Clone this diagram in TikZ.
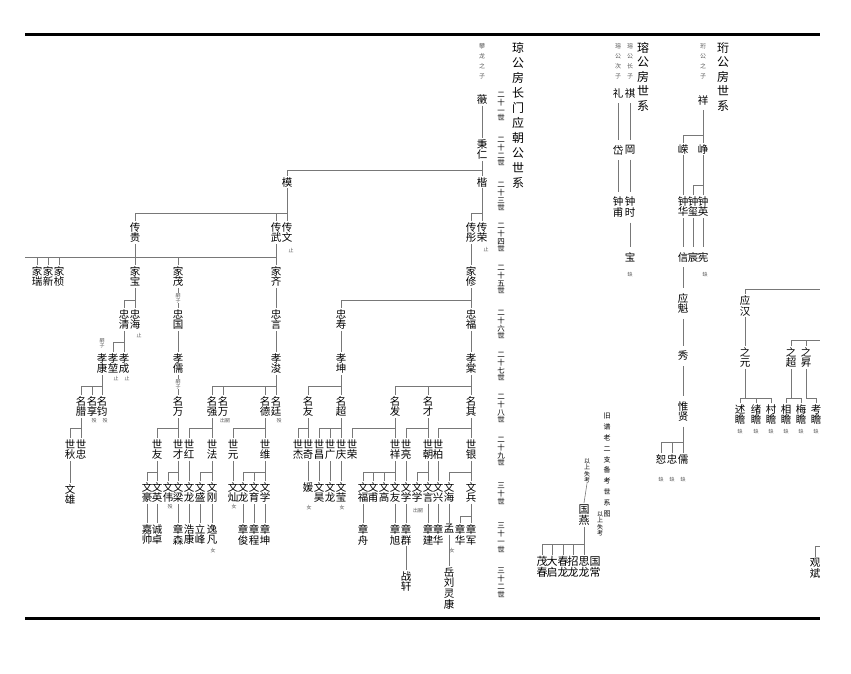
\documentclass[tikz,border=0pt]{standalone}
\usepackage{fontspec}
\newfontfamily\cjk{Noto Sans CJK SC}
\definecolor{ln}{RGB}{120,120,120}
\definecolor{nt}{RGB}{90,90,90}
\newcommand\kin[3]{\draw (#1.south) -- (#1.south |- 0,#2);
  \foreach \kc in {#3}{\draw (\kc.north) -- (\kc.north |- 0,#2) -- (#1.south |- 0,#2);}}
\newcommand\lk[2]{\draw (#1.south) -- (#2.north);}
\tikzset{
  nm/.style={font=\cjk\fontsize{10.5}{10.7}\selectfont, align=center, inner xsep=0pt, inner ysep=1.2pt, anchor=north},
  nmr/.style={nm, inner ysep=5pt},
  bg/.style={nm, font=\cjk\fontsize{11}{11.2}\selectfont},
  title/.style={font=\cjk\fontsize{12}{15}\selectfont, align=center, inner sep=0pt, anchor=north},
  titleb/.style={title, font=\cjk\fontsize{12}{14.5}\selectfont},
  gen/.style={font=\cjk\fontsize{7.5}{7.8}\selectfont, align=center, inner sep=0pt, anchor=north},
  sub/.style={font=\cjk\fontsize{6}{10}\selectfont, align=center, inner sep=0pt, anchor=north, text=nt},
  tiny/.style={font=\cjk\fontsize{5}{5.5}\selectfont, align=center, inner sep=0pt, text=nt},
  rule/.style={line width=2.6pt, black},
}
\begin{document}
\begin{tikzpicture}[x=1pt,y=-1pt]
\fill[white] (0,0) rectangle (851,674);
\useasboundingbox (0,0) rectangle (851,674);
\coordinate (tl) at (25,34.5); \coordinate (tr) at (820,34.5);
\coordinate (bl) at (25,618.5); \coordinate (br) at (820,618.5);
\draw[rule] (tl) -- (tr);
\draw[rule] (bl) -- (br);

% ---------- titles ----------
\node[title] (tt) at (518,42) {琼\\公\\房\\长\\门\\应\\朝\\公\\世\\系};
\node[sub] (pl) at (482,43) {攀\\龙\\之\\子};
\node[gen] (g21) at (501,92) {二\\十\\一\\世};
\node[gen] (g22) at (501,137) {二\\十\\二\\世};
\node[gen] (g23) at (501,182) {二\\十\\三\\世};
\node[gen] (g24) at (501,223) {二\\十\\四\\世};
\node[gen] (g25) at (501,265) {二\\十\\五\\世};
\node[gen] (g26) at (501,310) {二\\十\\六\\世};
\node[gen] (g27) at (501,352) {二\\十\\七\\世};
\node[gen] (g28) at (501,394) {二\\十\\八\\世};
\node[gen] (g29) at (501,437) {二\\十\\九\\世};
\node[gen] (g30) at (501,483) {三\\十\\世};
\node[gen] (g31) at (501,523) {三\\十\\一\\世};
\node[gen] (g32) at (501,568) {三\\十\\二\\世};

% ---------- main tree ----------
\node[nm] (t21) at (482,93) {藢};
\node[nm] (t22) at (482,138) {秉\\仁};
\node[nm] (kai) at (482,176) {楷};
\node[nm] (mo) at (287,176) {模};

\node[nm] (cg) at (135,221) {传\\贵};
\node[nm] (cw) at (276,221) {传\\武};
\node[nm] (cwen) at (287,221) {传\\文};
\node[nm] (ct) at (471,221) {传\\彤};
\node[nm] (cr) at (482,221) {传\\荣};

\node[nm] (jr) at (37,265) {家\\瑞};
\node[nm] (jx) at (48,265) {家\\新};
\node[nm] (jz) at (59,265) {家\\桢};
\node[nm] (jb) at (135,265) {家\\宝};
\node[nm] (jm) at (178,265) {家\\茂};
\node[nm] (jq) at (276,265) {家\\齐};
\node[nm] (jxiu) at (471,265) {家\\修};

\node[nm] (zq) at (124,308) {忠\\清};
\node[nm] (zh) at (135,308) {忠\\海};
\node[nm] (zg) at (178,308) {忠\\国};
\node[nm] (zy) at (276,308) {忠\\言};
\node[nm] (zs) at (341,308) {忠\\寿};
\node[nm] (zf) at (471,308) {忠\\福};

\node[nm] (xk) at (102,352) {孝\\康};
\node[nm] (xkun) at (113,352) {孝\\堃};
\node[nm] (xc) at (124,352) {孝\\成};
\node[nm] (xr) at (178,352) {孝\\儒};
\node[nm] (xj) at (276,352) {孝\\浚};
\node[nm] (xkn) at (341,352) {孝\\坤};
\node[nm] (xt) at (471,352) {孝\\棠};

\node[nm] (ml) at (81,395) {名\\腊};
\node[nm] (mx) at (92,395) {名\\享};
\node[nm] (mj) at (102,395) {名\\钧};
\node[nm] (mw) at (178,395) {名\\万};
\node[nm] (mq) at (212,395) {名\\强};
\node[nm] (mwb) at (223,395) {名\\万};
\node[nm] (md) at (265,395) {名\\德};
\node[nm] (mt) at (276,395) {名\\廷};
\node[nm] (my) at (308,395) {名\\友};
\node[nm] (mc) at (341,395) {名\\超};
\node[nm] (mf) at (395,395) {名\\发};
\node[nm] (mca) at (428,395) {名\\才};
\node[nm] (mqi) at (471,395) {名\\其};

\node[nm] (sq) at (70,438) {世\\秋};
\node[nm] (sz) at (81,438) {世\\忠};
\node[nm] (sy) at (157,438) {世\\友};
\node[nm] (sc) at (178,438) {世\\才};
\node[nm] (sh) at (189,438) {世\\红};
\node[nm] (sf) at (212,438) {世\\法};
\node[nm] (syu) at (233,438) {世\\元};
\node[nm] (sw) at (265,438) {世\\维};
\node[nm] (sj) at (298,438) {世\\杰};
\node[nm] (sqi) at (308,438) {世\\奇};
\node[nm] (sch) at (319,438) {世\\昌};
\node[nm] (sg) at (330,438) {世\\广};
\node[nm] (sqg) at (341,438) {世\\庆};
\node[nm] (sr) at (352,438) {世\\荣};
\node[nm] (sx) at (395,438) {世\\祥};
\node[nm] (sl) at (406,438) {世\\亮};
\node[nm] (scc) at (428,438) {世\\朝};
\node[nm] (sb) at (438,438) {世\\柏};
\node[nm] (syin) at (471,438) {世\\银};

\node[nm] (wx) at (70,483) {文\\雄};
\node[nm] (wh) at (147,481) {文\\豪};
\node[nm] (wy) at (157,481) {文\\英};
\node[nm] (ww) at (168,481) {文\\伟};
\node[nm] (wl) at (178,481) {文\\梁};
\node[nm] (wlo) at (189,481) {文\\龙};
\node[nm] (ws) at (200,481) {文\\盛};
\node[nm] (wg) at (212,481) {文\\刚};
\node[nm] (wc) at (233,481) {文\\灿};
\node[nm] (wlb) at (243,481) {文\\龙};
\node[nm] (wyu) at (254,481) {文\\育};
\node[nm] (wxu) at (265,481) {文\\学};
\node[nm] (yuan) at (308,481) {媛};
\node[nm] (wha) at (319,481) {文\\昊};
\node[nm] (wlc) at (330,481) {文\\龙};
\node[nm] (wyi) at (341,481) {文\\莹};
\node[nm] (wfu) at (363,481) {文\\福};
\node[nm] (wpu) at (373,481) {文\\甫};
\node[nm] (wgao) at (384,481) {文\\高};
\node[nm] (wyo) at (395,481) {文\\友};
\node[nm] (wxa) at (406,481) {文\\学};
\node[nm] (wxb) at (417,481) {文\\学};
\node[nm] (wyan) at (428,481) {文\\言};
\node[nm] (wxing) at (438,481) {文\\兴};
\node[nm] (whai) at (449,481) {文\\海};
\node[nm] (wbing) at (471,481) {文\\兵};

\node[nm] (a1) at (147,523) {嘉\\帅};
\node[nm] (a2) at (157,523) {诚\\卓};
\node[nm] (a3) at (178,523) {章\\森};
\node[nm] (a4) at (189,523) {浩\\康};
\node[nm] (a5) at (200,523) {立\\峰};
\node[nm] (a6) at (212,523) {逸\\凡};
\node[nm] (a7) at (243,523) {章\\俊};
\node[nm] (a8) at (254,523) {章\\程};
\node[nm] (a9) at (265,523) {章\\坤};
\node[nm] (b1) at (363,523) {章\\舟};
\node[nm] (b2) at (395,523) {章\\旭};
\node[nm] (b3) at (406,523) {章\\群};
\node[nm] (b4) at (428,523) {章\\建};
\node[nm] (b5) at (438,523) {章\\华};
\node[nm] (b6) at (449,523) {孟};
\node[nm] (b7) at (460,523) {章\\华};
\node[nm] (b8) at (471,523) {章\\军};

\node[nm] (c1) at (406,570) {战\\轩};
\node[nm] (c2) at (449,566) {岳\\刘\\灵\\康};

% ---------- old branch ----------
\node[font=\cjk\fontsize{7}{10.8}\selectfont, align=center, inner sep=0pt, anchor=north] (jp) at (607,413) {旧\\谱\\老\\二\\支\\备\\考\\世\\系\\图};
\node[font=\cjk\fontsize{6}{6.6}\selectfont, align=center, inner sep=0pt, anchor=north] (ys1) at (587,458) {以\\上\\失\\考};
\node[font=\cjk\fontsize{6}{6.6}\selectfont, align=center, inner sep=0pt, anchor=north] (ys2) at (600,511) {以\\上\\失\\考};
\node[bg] (gy) at (584,503) {国\\燕};
\node[bg] (d1) at (542,555) {茂\\春};
\node[bg] (d2) at (552,555) {大\\启};
\node[bg] (d3) at (563,555) {春\\龙};
\node[bg] (d4) at (573,555) {招\\龙};
\node[bg] (d5) at (584,555) {思\\龙};
\node[bg] (d6) at (595,555) {国\\常};

% ---------- 瑢 ----------
\node[titleb] (rt) at (643,42) {瑢\\公\\房\\世\\系};
\node[sub] (rs1) at (630,43) {瑢\\公\\长\\子};
\node[sub] (rs2) at (618,43) {瑢\\公\\次\\子};
\node[nmr] (li) at (618,83) {礼};
\node[nmr] (qi) at (630,83) {祺};
\node[nmr] (dai) at (618,140) {岱};
\node[nmr] (gang) at (630,140) {岡};
\node[nmr] (zfu) at (618,192) {钟\\甫};
\node[nmr] (zsh) at (630,192) {钟\\时};
\node[nmr] (bao) at (630,247) {宝};
\node[tiny] (q1) at (630,275) {缺};

% ---------- 珩 ----------
\node[titleb] (ht) at (723,42) {珩\\公\\房\\世\\系};
\node[sub] (hs) at (703,43) {珩\\公\\之\\子};
\node[nmr] (xiang) at (703,90) {祥};
\node[nm] (rong) at (683,143) {嵘};
\node[nm] (zheng) at (703,143) {峥};
\node[nm] (zhua) at (683,195) {钟\\华};
\node[nm] (zxi) at (693,195) {钟\\玺};
\node[nm] (zying) at (703,195) {钟\\英};
\node[nmr] (xin) at (683,247) {信};
\node[nmr] (chen) at (693,247) {宸};
\node[nmr] (xian) at (703,247) {宪};
\node[tiny] (q2) at (705,275) {缺};
\node[nmr] (ykui) at (683,288) {应\\魁};
\node[nmr] (xiu) at (683,346) {秀};
\node[nmr] (wxian) at (683,396) {惟\\贤};
\node[nm] (shu) at (661,453) {恕};
\node[nm] (zhong) at (672,453) {忠};
\node[nm] (ru) at (683,453) {儒};
\node[tiny] at (661,480) {缺};
\node[tiny] at (672,480) {缺};
\node[tiny] at (683,480) {缺};

\node[nm] (yhan) at (745,294) {应\\汉};
\node[nm] (zyuan) at (745,346) {之\\元};
\node[nm] (zchao) at (791,346) {之\\超};
\node[nm] (zsheng) at (806,346) {之\\昇};
\node[nm] (e1) at (740,403) {述\\瞻};
\node[nm] (e2) at (756,403) {绪\\瞻};
\node[nm] (e3) at (771,403) {村\\瞻};
\node[nm] (e4) at (786,403) {相\\瞻};
\node[nm] (e5) at (801,403) {梅\\瞻};
\node[nm] (e6) at (816,403) {考\\瞻};
\foreach \xx in {740,756,771,786,801,816} {\node[tiny] at (\xx,432) {缺};}
\coordinate (rA) at (820,289);
\coordinate (rB) at (820,340);
\node[nm] (gbin) at (815,557) {观\\斌};
\coordinate (rC) at (820,546);
\coordinate (lft) at (25,257);

% ---------- connectors ----------
\begin{scope}[ln, line width=0.6pt]
\lk{t21}{t22} \lk{t22}{kai}
\draw (mo.north) |- (kai.north |- 0,170);
\kin{kai}{213}{ct,cr}
\kin{mo}{213}{cg,cw,cwen}
\kin{cg}{257}{jr,jx,jz,jb,jm}
\kin{cw}{257}{jm,jq}
\draw (jr.north |- 0,257) -- (lft);
\lk{ct}{jxiu}
\kin{jb}{300}{zq,zh}
\lk{jm}{zg} \lk{jq}{zy}
\kin{jxiu}{300}{zs,zf}
\kin{zq}{342}{xkun,xc}
\lk{zg}{xr} \lk{zy}{xj} \lk{zs}{xkn} \lk{zf}{xt}
\kin{xk}{386}{ml,mx,mj}
\lk{xr}{mw}
\kin{xj}{386}{mq,mwb,md,mt}
\kin{xkn}{386}{my,mc}
\kin{xt}{386}{mf,mca,mqi}
\kin{ml}{428}{sq,sz}
\kin{mw}{428}{sy,sc}
\kin{mq}{428}{sh,sf}
\kin{md}{428}{syu,sw}
\kin{my}{428}{sj,sqi}
\kin{mc}{428}{sch,sg,sqg}
\kin{mf}{428}{sr,sx}
\kin{mca}{428}{sl,scc}
\kin{mqi}{428}{sb,syin}
\lk{sq}{wx}
\kin{sy}{472}{wh,wy}
\kin{sc}{472}{ww,wl}
\lk{sh}{wlo}
\kin{sf}{472}{ws,wg}
\lk{syu}{wc}
\kin{sw}{472}{wlb,wyu,wxu}
\lk{sqi}{yuan} \lk{sch}{wha} \lk{sg}{wlc} \lk{sqg}{wyi}
\kin{sx}{472}{wfu,wpu,wgao,wyo}
\lk{sl}{wxa}
\kin{scc}{472}{wxb,wyan}
\lk{sb}{wxing}
\kin{syin}{472}{whai,wbing}
\lk{wh}{a1} \lk{wy}{a2} \lk{wl}{a3} \lk{wlo}{a4} \lk{ws}{a5} \lk{wg}{a6}
\lk{wlb}{a7} \lk{wyu}{a8} \lk{wxu}{a9}
\lk{wfu}{b1} \lk{wyo}{b2} \lk{wxa}{b3} \lk{wyan}{b4} \lk{wxing}{b5} \lk{whai}{b6}
\kin{wbing}{516}{b7,b8}
\lk{b3}{c1} \lk{b6}{c2}
% old branch
\lk{ys1}{gy}
\kin{gy}{544}{d1,d2,d3,d4,d5}
% 瑢
\lk{li}{dai} \lk{qi}{gang} \lk{dai}{zfu} \lk{gang}{zsh} \lk{zsh}{bao}
% 珩
\draw (xiang.south) -- (xiang.south |- 0,135) -| (rong.north);
\draw (zheng.north) -- (zheng.north |- 0,135);
\draw (rong.south) -- (zhua.north);
\draw (zheng.south) -- (zheng.south |- 0,185) -| (zxi.north);
\draw (zying.north) -- (zying.north |- 0,185);
\draw (zhua.south) -- (xin.north);
\draw (zxi.south) -- (chen.north);
\draw (zying.south) -- (xian.north);
\lk{xin}{ykui} \lk{ykui}{xiu} \lk{xiu}{wxian}
\kin{wxian}{442}{shu,zhong,ru}
\draw (yhan.north) |- (rA);
\lk{yhan}{zyuan}
\draw (zchao.north) |- (rB);
\draw (zsheng.north) -- (zsheng.north |- 0,340);
\kin{zyuan}{398}{e1,e2,e3}
\kin{zchao}{398}{e4,e5}
\kin{zsheng}{398}{e6}
\draw (gbin.north) |- (rC);
\end{scope}

% ---------- small notes ----------
\node[tiny] at (291,250) {止};
\node[tiny] at (486,249) {止};
\node[tiny] at (139,335) {止};
\node[tiny, fill=white, inner ysep=0.5pt] at (178,298) {嗣\\子};
\node[tiny] at (102,343) {嗣\\子};
\node[tiny] at (116,378) {止};
\node[tiny] at (127,378) {止};
\node[tiny, fill=white, inner ysep=0.5pt] at (178,384) {嗣\\子};
\node[tiny] at (94,421) {殁};
\node[tiny] at (105,421) {殁};
\node[tiny] at (225,421) {出嗣};
\node[tiny] at (279,421) {殁};
\node[tiny] at (170,507) {殁};
\node[tiny] at (234,507) {女};
\node[tiny] at (309,508) {女};
\node[tiny] at (342,508) {女};
\node[tiny] at (418,511) {出嗣};
\node[tiny] at (213,551) {女};
\node[tiny] at (452,551) {女};
\end{tikzpicture}
\end{document}
